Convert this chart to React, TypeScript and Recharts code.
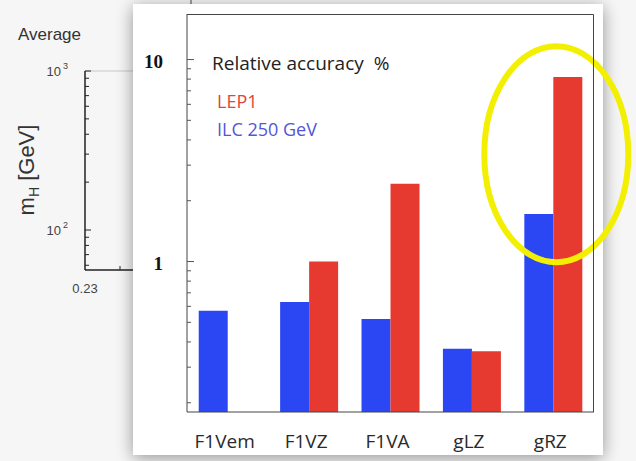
import React from 'react';
import { Bar, BarChart, ReferenceDot, XAxis, YAxis } from 'recharts';

// Coupling parameters and relative accuracy (%) for each
const categories = ['F1Vem', 'F1VZ', 'F1VA', 'gLZ', 'gRZ'];
const ilc250 = [0.57, 0.63, 0.52, 0.37, 1.72];
const lep1: (number | null)[] = [null, 1.0, 2.43, 0.36, 8.2];

// Log axis ticks: every minor step, labels only on the decades
const yDomain = [0.18, 16.8];
const yTicks = [0.2, 0.3, 0.4, 0.5, 0.6, 0.7, 0.8, 0.9, 1, 2, 3, 4, 5, 6, 7, 8, 9, 10];
const yMajor = [1, 10];

// Background m_H axis (the slide behind)
const mhTicks = [60, 70, 80, 90, 100, 200, 300, 400, 500, 600, 700, 800, 900, 1000];

const BLUE = '#2b46f3';
const RED = '#e63a31';
const FRAME = '#444';

const W = 636;
const H = 461;
const MARGIN = { top: 14, right: 42, bottom: 19, left: 0 };
const Y_AXIS_W = 187;
const X_AXIS_H = 30;

const data = categories.map((name, i) => ({ name, ilc: ilc250[i], lep: lep1[i] }));

const YTick = (props: any) => {
  const { x, y, payload } = props;
  const major = yMajor.includes(payload.value);
  return (
    <g>
      <line x1={x} x2={x + (major ? 7 : 4)} y1={y} y2={y} stroke="#555" strokeWidth={1} />
      {major && (
        <text
          x={x - 24}
          y={y + 2}
          textAnchor="end"
          dominantBaseline="central"
          fontFamily="'Liberation Serif', serif"
          fontWeight="bold"
          fontSize={19}
          fill="#111"
        >
          {payload.value}
        </text>
      )}
    </g>
  );
};

const XTick = (props: any) => {
  const { x, y, payload } = props;
  return (
    <text x={x - 3} y={y + 36} textAnchor="middle" fontFamily="'Open Sans', sans-serif" fontSize={19} fill="#2a2a2a">
      {payload.value}
    </text>
  );
};

const Highlight = (props: any) => (
  <ellipse cx={props.cx + 3} cy={props.cy} rx={72} ry={108} fill="none" stroke="#f3ef00" strokeWidth={6} />
);

// Partial plot of the previous slide, peeking out on the left
const BackgroundPlot = () => {
  const yOf = (v: number) => 230 - 159 * Math.log10(v / 100);
  return (
    <svg width={W} height={H} style={{ position: 'absolute', left: 0, top: 0 }}>
      <text x={18} y={40} fontFamily="'Liberation Sans', sans-serif" fontSize={17} fill="#333">
        Average
      </text>
      <text
        transform="translate(34,170) rotate(-90)"
        textAnchor="middle"
        fontFamily="'Liberation Sans', sans-serif"
        fontSize={22}
        fill="#333"
      >
        m<tspan fontSize={14} dy={5}>H</tspan>
        <tspan dy={-5}>{'  [GeV]'}</tspan>
      </text>
      <line x1={85} x2={140} y1={yOf(1000)} y2={yOf(1000)} stroke="#c8c8c8" />
      <line x1={85} x2={85} y1={yOf(1000)} y2={270} stroke="#222" strokeWidth={1.5} />
      <line x1={85} x2={140} y1={270} y2={270} stroke="#222" strokeWidth={1.5} />
      <line x1={120} x2={120} y1={270} y2={266} stroke="#222" />
      <line x1={191} x2={191} y1={0} y2={4} stroke="#444" />
      {mhTicks.map((v) => (
        <line key={v} x1={85} x2={v === 100 || v === 1000 ? 91 : 89} y1={yOf(v)} y2={yOf(v)} stroke="#222" />
      ))}
      {[1000, 100].map((v) => (
        <text
          key={v}
          x={68}
          y={yOf(v) + 5}
          textAnchor="end"
          fontFamily="'Liberation Sans', sans-serif"
          fontSize={13}
          fill="#444"
        >
          10
          <tspan fontSize={9} dy={-7} dx={2}>
            {v === 1000 ? 3 : 2}
          </tspan>
        </text>
      ))}
      <text x={85} y={293} textAnchor="middle" fontFamily="'Liberation Sans', sans-serif" fontSize={13} fill="#444">
        0.23
      </text>
    </svg>
  );
};

// Top and right edges of the plot box
const PlotFrame = () => {
  const left = MARGIN.left + Y_AXIS_W;
  const right = W - MARGIN.right;
  const top = MARGIN.top;
  const bottom = H - MARGIN.bottom - X_AXIS_H;
  return (
    <svg width={W} height={H} style={{ position: 'absolute', left: 0, top: 0, pointerEvents: 'none' }}>
      <polyline
        points={`${left},${top + 0.5} ${right - 0.5},${top + 0.5} ${right - 0.5},${bottom}`}
        fill="none"
        stroke={FRAME}
        strokeWidth={1}
      />
    </svg>
  );
};

export default function App() {
  return (
    <div
      style={{
        position: 'absolute',
        left: 0,
        top: 0,
        width: W,
        height: H,
        overflow: 'hidden',
        background: '#f6f6f6',
      }}
    >
      <BackgroundPlot />
      <div
        style={{
          position: 'absolute',
          left: 133,
          top: 4,
          width: 470,
          height: 451,
          background: '#fff',
          boxShadow: '0 3px 16px rgba(0,0,0,0.4)',
        }}
      />
      <div style={{ position: 'absolute', left: 0, top: 0 }}>
        <BarChart width={W} height={H} data={data} margin={MARGIN} barCategoryGap="14.4%" barGap={0}>
          <XAxis
            dataKey="name"
            height={X_AXIS_H}
            tickSize={0}
            tickMargin={0}
            tickLine={false}
            axisLine={{ stroke: FRAME }}
            tick={<XTick />}
            interval={0}
          />
          <YAxis
            scale="log"
            domain={yDomain}
            allowDataOverflow
            ticks={yTicks}
            interval={0}
            width={Y_AXIS_W}
            tickSize={0}
            tickMargin={0}
            tickLine={false}
            axisLine={{ stroke: FRAME }}
            tick={<YTick />}
          />
          <Bar dataKey="ilc" fill={BLUE} isAnimationActive={false} />
          <Bar dataKey="lep" fill={RED} isAnimationActive={false} />
          <ReferenceDot x="gRZ" y={3.4} ifOverflow="visible" shape={Highlight} />
        </BarChart>
      </div>
      <PlotFrame />
      <div
        style={{
          position: 'absolute',
          left: 212,
          top: 49,
          fontFamily: "'Open Sans', sans-serif",
          fontSize: 19,
          lineHeight: '28px',
          whiteSpace: 'pre',
        }}
      >
        <div style={{ color: '#222' }}>{'Relative accuracy  %'}</div>
        <div style={{ color: '#e2433c', fontSize: 18, marginTop: 10, marginLeft: 5 }}>LEP1</div>
        <div style={{ color: '#5455d6', fontSize: 18, marginLeft: 5 }}>ILC 250 GeV</div>
      </div>
    </div>
  );
}
